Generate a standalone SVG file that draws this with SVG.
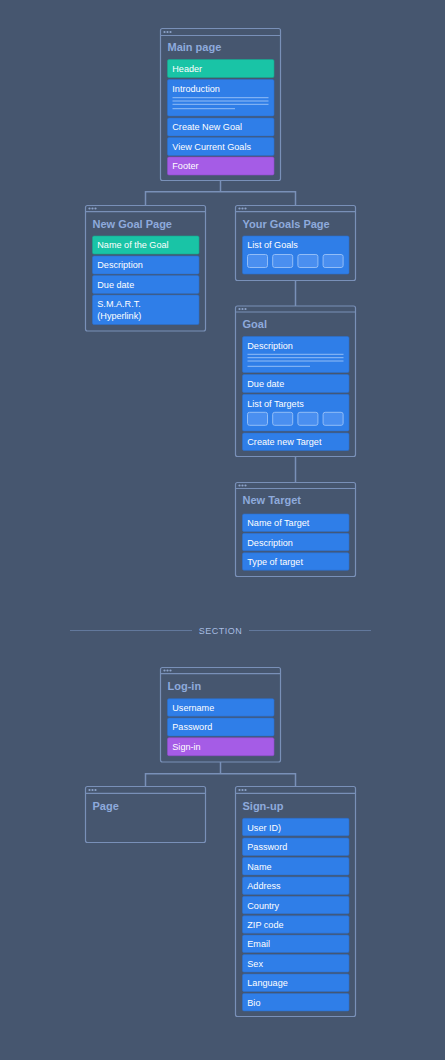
<svg xmlns="http://www.w3.org/2000/svg" width="445" height="1060" viewBox="0 0 445 1060">
<defs>
<style>
.bg{fill:#46566f}
.frame{fill:#46566f;stroke:#7990b8;stroke-width:1.2}
.bar{stroke:#7990b8;stroke-width:1.2}
.dot{fill:#8da3c9}
.title{font-family:"Liberation Sans",Arial,sans-serif;font-size:11px;font-weight:bold;fill:#8eaadc}
.item{fill:#2f7ee8;stroke:#2a6fce;stroke-width:0.6}
.teal{fill:#19c4a6;stroke:#15a88f;stroke-width:0.6}
.purple{fill:#a55ce6;stroke:#8f4ccc;stroke-width:0.6}
.lbl{font-family:"Liberation Sans",Arial,sans-serif;font-size:9.1px;fill:#ffffff}
.ln{stroke:#93bdf6;stroke-width:1}
.box{fill:#4a8ff0;stroke:#92bdf7;stroke-width:1}
.conn{fill:none;stroke:#7990b8;stroke-width:1.5}
.sec{font-family:"Liberation Sans",Arial,sans-serif;font-size:9px;fill:#a8bde2;letter-spacing:0.5px}
.secline{stroke:#62789c;stroke-width:1}
</style>
<g id="dots"><circle cx="4" cy="3.5" r="1.1" class="dot"/><circle cx="7" cy="3.5" r="1.1" class="dot"/><circle cx="10" cy="3.5" r="1.1" class="dot"/></g>
</defs>
<rect class="bg" x="0" y="0" width="445" height="1060"/>

<g id="connectors">
<path class="conn" d="M220.5 180.5 V191.7 M145.5 205.5 V191.7 H295.5 V205.5"/>
<path class="conn" d="M295.5 280.5 V306"/>
<path class="conn" d="M295.5 456.5 V482.5"/>
<path class="conn" d="M220.5 762 V773.7 M145.5 786.5 V773.7 H295.5 V786.5"/>
</g>

<g id="main-page">
<rect class="frame" x="160.5" y="28.5" width="120" height="152" rx="2"/>
<line class="bar" x1="160.5" y1="35.5" x2="280.5" y2="35.5"/>
<use href="#dots" x="160.5" y="28.5"/>
<text class="title" x="167.5" y="51">Main page</text>
<rect class="teal" x="167.5" y="59.5" width="106.5" height="18" rx="1.5"/>
<text class="lbl" x="172.3" y="71.7">Header</text>
<rect class="item" x="167.5" y="79.5" width="106.5" height="36.5" rx="1.5"/>
<text class="lbl" x="172.3" y="91.7">Introduction</text>
<line class="ln" x1="172.5" y1="97.7" x2="268.5" y2="97.7"/>
<line class="ln" x1="172.5" y1="101" x2="268.5" y2="101"/>
<line class="ln" x1="172.5" y1="104.3" x2="268.5" y2="104.3"/>
<line class="ln" x1="172.5" y1="108.7" x2="235" y2="108.7"/>
<rect class="item" x="167.5" y="118" width="106.5" height="18" rx="1.5"/>
<text class="lbl" x="172.3" y="130.2">Create New Goal</text>
<rect class="item" x="167.5" y="137.5" width="106.5" height="18" rx="1.5"/>
<text class="lbl" x="172.3" y="149.7">View Current Goals</text>
<rect class="purple" x="167.5" y="157" width="106.5" height="18" rx="1.5"/>
<text class="lbl" x="172.3" y="169.2">Footer</text>
</g>

<g id="new-goal-page">
<rect class="frame" x="85.5" y="205.5" width="120" height="125.5" rx="2"/>
<line class="bar" x1="85.5" y1="211.7" x2="205.5" y2="211.7"/>
<use href="#dots" x="85.5" y="205"/>
<text class="title" x="92.5" y="227.7">New Goal Page</text>
<rect class="teal" x="92.5" y="236" width="106.5" height="18" rx="1.5"/>
<text class="lbl" x="97.3" y="248.2">Name of the Goal</text>
<rect class="item" x="92.5" y="256" width="106.5" height="18" rx="1.5"/>
<text class="lbl" x="97.3" y="268.2">Description</text>
<rect class="item" x="92.5" y="275.5" width="106.5" height="18" rx="1.5"/>
<text class="lbl" x="97.3" y="287.7">Due date</text>
<rect class="item" x="92.5" y="295" width="106.5" height="29.5" rx="1.5"/>
<text class="lbl" x="97.3" y="306.7">S.M.A.R.T.</text>
<text class="lbl" x="97.3" y="318.7">(Hyperlink)</text>
</g>

<g id="your-goals-page">
<rect class="frame" x="235.5" y="205.5" width="120" height="75" rx="2"/>
<line class="bar" x1="235.5" y1="211.7" x2="355.5" y2="211.7"/>
<use href="#dots" x="235.5" y="205"/>
<text class="title" x="242.5" y="227.7">Your Goals Page</text>
<rect class="item" x="242.5" y="236" width="106.5" height="38" rx="1.5"/>
<text class="lbl" x="247.3" y="248.2">List of Goals</text>
<rect class="box" x="247.5" y="254.5" width="20" height="13" rx="2"/>
<rect class="box" x="272.7" y="254.5" width="20" height="13" rx="2"/>
<rect class="box" x="297.9" y="254.5" width="20" height="13" rx="2"/>
<rect class="box" x="323.1" y="254.5" width="20" height="13" rx="2"/>
</g>

<g id="goal">
<rect class="frame" x="235.5" y="306" width="120" height="150.5" rx="2"/>
<line class="bar" x1="235.5" y1="312" x2="355.5" y2="312"/>
<use href="#dots" x="235.5" y="305.5"/>
<text class="title" x="242.5" y="327.5">Goal</text>
<rect class="item" x="242.5" y="336.5" width="106.5" height="36" rx="1.5"/>
<text class="lbl" x="247.3" y="348.7">Description</text>
<line class="ln" x1="247.5" y1="354.3" x2="343.5" y2="354.3"/>
<line class="ln" x1="247.5" y1="357.7" x2="343.5" y2="357.7"/>
<line class="ln" x1="247.5" y1="361" x2="343.5" y2="361"/>
<line class="ln" x1="247.5" y1="366.3" x2="310" y2="366.3"/>
<rect class="item" x="242.5" y="374.5" width="106.5" height="18" rx="1.5"/>
<text class="lbl" x="247.3" y="386.7">Due date</text>
<rect class="item" x="242.5" y="394.3" width="106.5" height="36.7" rx="1.5"/>
<text class="lbl" x="247.3" y="406.5">List of Targets</text>
<rect class="box" x="247.5" y="412.3" width="20" height="13" rx="2"/>
<rect class="box" x="272.7" y="412.3" width="20" height="13" rx="2"/>
<rect class="box" x="297.9" y="412.3" width="20" height="13" rx="2"/>
<rect class="box" x="323.1" y="412.3" width="20" height="13" rx="2"/>
<rect class="item" x="242.5" y="433" width="106.5" height="17.5" rx="1.5"/>
<text class="lbl" x="247.3" y="445.2">Create new Target</text>
</g>

<g id="new-target">
<rect class="frame" x="235.5" y="482.5" width="120" height="94" rx="2"/>
<line class="bar" x1="235.5" y1="488.5" x2="355.5" y2="488.5"/>
<use href="#dots" x="235.5" y="482"/>
<text class="title" x="242.5" y="504">New Target</text>
<rect class="item" x="242.5" y="514" width="106.5" height="17.5" rx="1.5"/>
<text class="lbl" x="247.3" y="526.2">Name of Target</text>
<rect class="item" x="242.5" y="533.3" width="106.5" height="17.5" rx="1.5"/>
<text class="lbl" x="247.3" y="545.5">Description</text>
<rect class="item" x="242.5" y="552.7" width="106.5" height="17.5" rx="1.5"/>
<text class="lbl" x="247.3" y="564.9">Type of target</text>
</g>

<g id="section">
<line class="secline" x1="70" y1="630.5" x2="192" y2="630.5"/>
<line class="secline" x1="249" y1="630.5" x2="371" y2="630.5"/>
<text class="sec" x="220.5" y="633.8" text-anchor="middle">SECTION</text>
</g>

<g id="log-in">
<rect class="frame" x="160.5" y="667.5" width="120" height="94.5" rx="2"/>
<line class="bar" x1="160.5" y1="673.7" x2="280.5" y2="673.7"/>
<use href="#dots" x="160.5" y="667"/>
<text class="title" x="167.5" y="689.5">Log-in</text>
<rect class="item" x="167.5" y="698.7" width="106.5" height="17.5" rx="1.5"/>
<text class="lbl" x="172.3" y="710.9">Username</text>
<rect class="item" x="167.5" y="718" width="106.5" height="18" rx="1.5"/>
<text class="lbl" x="172.3" y="730.2">Password</text>
<rect class="purple" x="167.5" y="737.7" width="106.5" height="18" rx="1.5"/>
<text class="lbl" x="172.3" y="749.9">Sign-in</text>
</g>

<g id="page">
<rect class="frame" x="85.5" y="786.5" width="120" height="56" rx="2"/>
<line class="bar" x1="85.5" y1="793.3" x2="205.5" y2="793.3"/>
<use href="#dots" x="85.5" y="786.5"/>
<text class="title" x="92.5" y="809.5">Page</text>
</g>

<g id="sign-up">
<rect class="frame" x="235.5" y="786.5" width="120" height="230" rx="2"/>
<line class="bar" x1="235.5" y1="793.3" x2="355.5" y2="793.3"/>
<use href="#dots" x="235.5" y="786.5"/>
<text class="title" x="242.5" y="809.5">Sign-up</text>
<rect class="item" x="242.5" y="818.3" width="106.5" height="17.5" rx="1.5"/>
<text class="lbl" x="247.3" y="830.5">User ID)</text>
<rect class="item" x="242.5" y="838" width="106.5" height="17.5" rx="1.5"/>
<text class="lbl" x="247.3" y="850.2">Password</text>
<rect class="item" x="242.5" y="857.4" width="106.5" height="17.5" rx="1.5"/>
<text class="lbl" x="247.3" y="869.6">Name</text>
<rect class="item" x="242.5" y="876.9" width="106.5" height="17.5" rx="1.5"/>
<text class="lbl" x="247.3" y="889.1">Address</text>
<rect class="item" x="242.5" y="896.3" width="106.5" height="17.5" rx="1.5"/>
<text class="lbl" x="247.3" y="908.5">Country</text>
<rect class="item" x="242.5" y="915.7" width="106.5" height="17.5" rx="1.5"/>
<text class="lbl" x="247.3" y="927.9">ZIP code</text>
<rect class="item" x="242.5" y="935.1" width="106.5" height="17.5" rx="1.5"/>
<text class="lbl" x="247.3" y="947.3">Email</text>
<rect class="item" x="242.5" y="954.6" width="106.5" height="17.5" rx="1.5"/>
<text class="lbl" x="247.3" y="966.8">Sex</text>
<rect class="item" x="242.5" y="974" width="106.5" height="17.5" rx="1.5"/>
<text class="lbl" x="247.3" y="986.2">Language</text>
<rect class="item" x="242.5" y="993.4" width="106.5" height="17.5" rx="1.5"/>
<text class="lbl" x="247.3" y="1005.6">Bio</text>
</g>
</svg>
